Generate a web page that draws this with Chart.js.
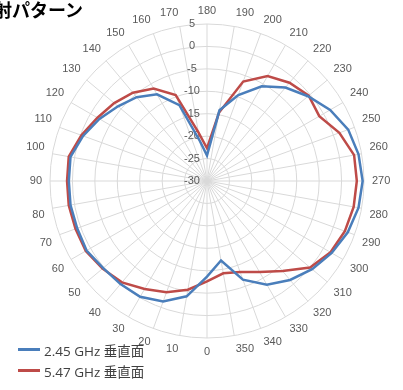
<!DOCTYPE html>
<html>
<head>
<meta charset="utf-8">
<script src="https://cdn.jsdelivr.net/npm/chart.js@4"></script>
<style>
  body { margin: 0; background: #fff; }
  #wrap { position: relative; width: 403px; height: 390px; overflow: hidden; }
  #title { position: absolute; left: -6px; top: -4px; font: bold 18px "Noto Sans CJK JP"; color: #000; white-space: nowrap; }
  #legend { position: absolute; left: 18px; top: 339px; font: 13.5px "Open Sans", "Noto Sans CJK JP"; color: #404040; }
  .item { display: flex; align-items: center; height: 21px; white-space: nowrap; }
  .swatch { width: 22px; height: 3px; margin-right: 4px; }
</style>
</head>
<body>
<div id="wrap">
  <canvas id="c" width="403" height="390"></canvas>
  <div id="title">射パターン</div>
  <div id="legend"></div>
</div>
<script>
// angles in the order they go round the chart (180 at the top, clockwise)
const angles = [180, 190, 200, 210, 220, 230, 240, 250, 260, 270, 280, 290, 300, 310, 320, 330, 340, 350,
                0, 10, 20, 30, 40, 50, 60, 70, 80, 90, 100, 110, 120, 130, 140, 150, 160, 170];

// dB, same order as angles
const v245 = [-24.3, -14, -9.6, -5.6, -2.8, -0.6, 1.7, 3.5, 4.3, 4.7, 4.3, 3.4, 2.1, 0.6, -1.2, -3.3, -6.6, -12,
              -8.7, -3.9, -1.4, -0.2, 0, 0.2, 1.0, 0.8, 0.9, 0.8, 0.9, -0.6, -2.3, -4.1, -5.6, -7.7, -12, -21];
const v547 = [-22.7, -14.5, -6.4, -3.0, -1.4, -0.4, -1.1, 1.4, 3.3, 3.4, 3.2, 2.7, 1.8, 0, -3.8, -6.6, -8.4, -9.1,
              -7.6, -5.4, -3.6, -2.2, -0.5, 0.4, 1.2, 1.2, 1.3, 1.2, 1.3, -0.2, -1.8, -3.0, -4.3, -6.2, -9.6, -19];

const seriesNames = ['2.45 GHz 垂直面', '5.47 GHz 垂直面'];
const seriesColors = ['#4a7ebb', '#be4b48'];

// tick labels sit a bit left of the vertical axis, like excel does it
const tickLabels = {
  id: 'tickLabels',
  beforeDatasetsDraw(chart) {
    const s = chart.scales.r;
    const ctx = chart.ctx;
    ctx.save();
    ctx.font = '11px "Liberation Sans"';
    ctx.fillStyle = '#595959';
    ctx.textAlign = 'center';
    ctx.textBaseline = 'middle';
    s.ticks.forEach(t => {
      const d = s.getDistanceFromCenterForValue(t.value);
      ctx.fillText(t.label, s.xCenter - 15, s.yCenter - d);
    });
    ctx.restore();
  }
};

const ctx = document.getElementById('c').getContext('2d');
new Chart(ctx, {
  type: 'radar',
  data: {
    labels: angles,
    datasets: [
      { label: seriesNames[0], data: v245, borderColor: seriesColors[0], backgroundColor: seriesColors[0], fill: false },
      { label: seriesNames[1], data: v547, borderColor: seriesColors[1], backgroundColor: seriesColors[1], fill: false }
    ]
  },
  options: {
    responsive: false,
    animation: false,
    layout: { padding: { left: 15, right: 0, top: 5, bottom: 33 } },
    plugins: { legend: { display: false }, tooltip: { enabled: false } },
    elements: { line: { borderWidth: 2.5, tension: 0 }, point: { radius: 0 } },
    scales: {
      r: {
        min: -30, max: 5,
        startAngle: 0,
        ticks: { display: false, stepSize: 5 },
        grid: { circular: true, color: '#d9d9d9' },
        angleLines: { color: '#d9d9d9' },
        pointLabels: { padding: 8, color: '#595959', font: { size: 11, family: 'Liberation Sans', lineHeight: 1 } }
      }
    }
  },
  plugins: [tickLabels]
});

document.getElementById('legend').innerHTML = seriesNames.map((n, i) =>
  `<div class="item"><span class="swatch" style="background:${seriesColors[i]}"></span>${n}</div>`).join('');
</script>
</body>
</html>
